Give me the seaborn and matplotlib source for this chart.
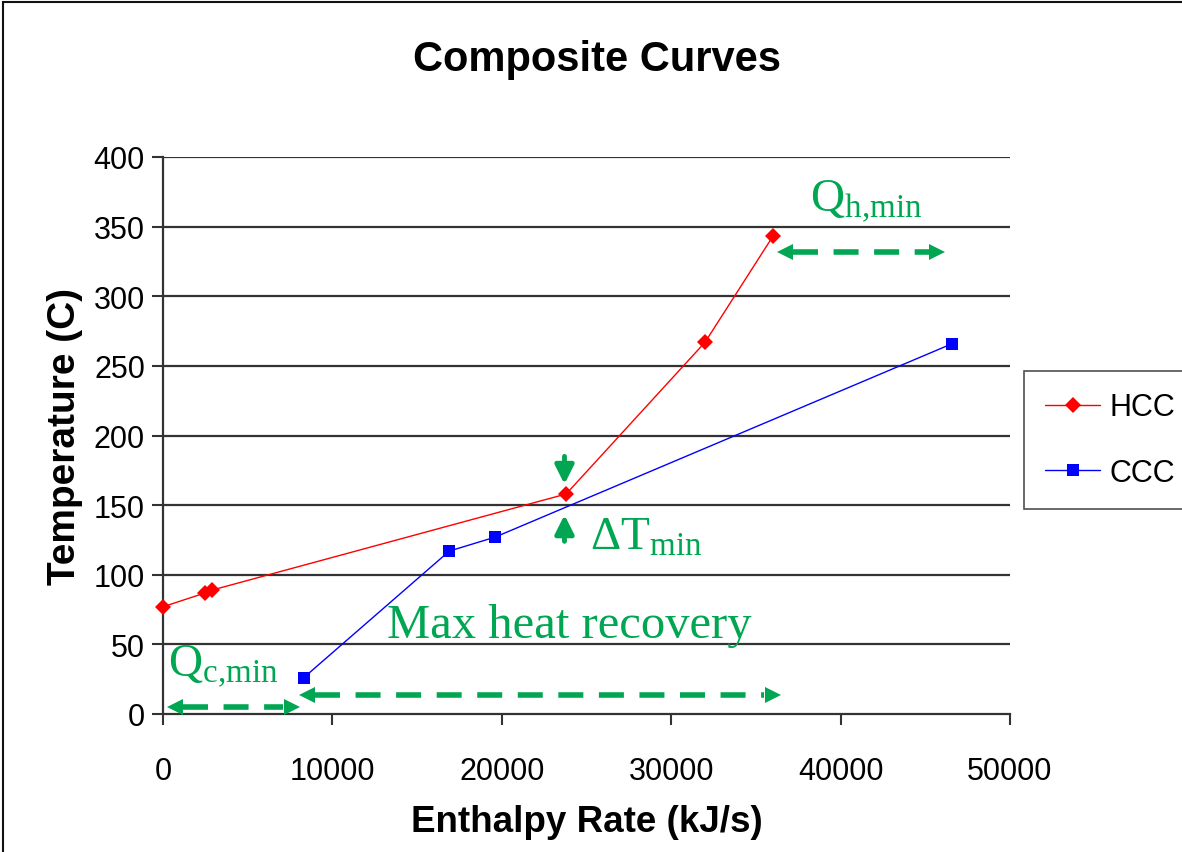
import numpy as np
import pandas as pd
import matplotlib
matplotlib.use("Agg")
import matplotlib.pyplot as plt
import seaborn as sns
from matplotlib.patches import Rectangle

# ---- data ----
hcc_x = [0, 2500, 2900, 23800, 32000, 36000]
hcc_y = [77, 87, 89, 158, 267, 343]
ccc_x = [8300, 16900, 19600, 46600]
ccc_y = [26, 117, 127, 266]
series_names = ["HCC", "CCC"]
x_ticks = [0, 10000, 20000, 30000, 40000, 50000]
y_ticks = [0, 50, 100, 150, 200, 250, 300, 350, 400]

# annotation arrows (data units)
qc_arrow = (700, 7600, 5)
mhr_arrow = (8500, 36000, 14)
qh_arrow = (36700, 45700, 332)
dt_x = 23700
dt_down = (185, 165)
dt_up = (124, 143)

df = pd.concat([
    pd.DataFrame({"Enthalpy": hcc_x, "Temp": hcc_y, "series": "HCC"}),
    pd.DataFrame({"Enthalpy": ccc_x, "Temp": ccc_y, "series": "CCC"}),
], ignore_index=True)

sns.set_style("white")
plt.rcParams["font.family"] = ["Liberation Sans", "DejaVu Sans"]
plt.rcParams["text.color"] = "black"
plt.rcParams["axes.labelcolor"] = "black"
plt.rcParams["xtick.color"] = "black"
plt.rcParams["ytick.color"] = "black"
plt.rcParams["mathtext.fontset"] = "custom"
plt.rcParams["mathtext.rm"] = "Liberation Serif"
plt.rcParams["mathtext.it"] = "Liberation Serif:italic"

W, H = 1182, 853
fig = plt.figure(figsize=(W / 100, H / 100), dpi=100)
fig.patch.set_facecolor("white")
ax = fig.add_axes([163 / W, 1 - 715 / H, (1010 - 163) / W, (715 - 158) / H])

sns.lineplot(data=df, x="Enthalpy", y="Temp", hue="series", style="series",
             hue_order=series_names, style_order=series_names,
             palette={"HCC": "#ff0000", "CCC": "#0000ff"},
             markers={"HCC": "D", "CCC": "s"}, dashes=False, sort=False,
             linewidth=1.0, markersize=8, markeredgewidth=0, ax=ax,
             legend=True)
for ln in ax.lines:
    ln.set_clip_on(False)
    ln.set_zorder(4)

ax.set_xlim(0, 50000)
ax.set_ylim(0, 400)
ax.set_xticks(x_ticks)
ax.set_yticks(y_ticks)
ax.set_xticklabels([str(v) for v in x_ticks])
ax.set_yticklabels([str(v) for v in y_ticks])
ax.tick_params(axis="x", direction="out", length=8, width=1.5, pad=22,
               labelsize=22, bottom=True, color="#333333", labelcolor="black")
ax.tick_params(axis="y", direction="out", length=8, width=1.5, pad=5,
               labelsize=22, left=True, color="#333333", labelcolor="black")
for yv in y_ticks[1:]:
    ax.axhline(yv, color="#333333", lw=1.6, zorder=0)
for s in ["top", "right"]:
    ax.spines[s].set_visible(False)
for s in ["left", "bottom"]:
    ax.spines[s].set_color("#333333")
    ax.spines[s].set_linewidth(1.6)

ax.set_xlabel("Enthalpy Rate (kJ/s)", fontsize=26.5, fontweight="bold", labelpad=13)
ax.set_ylabel("Temperature (C)", fontsize=28, fontweight="bold", labelpad=8)
fig.text(597 / W, 1 - 60 / H, "Composite Curves", fontsize=30, fontweight="bold",
         ha="center", va="center")

# legend
handles, labels = ax.get_legend_handles_labels()
leg = ax.legend(handles, labels, loc="upper left",
                bbox_to_anchor=(1024 / W, 1 - 372 / H),
                bbox_transform=fig.transFigure, borderaxespad=0,
                fontsize=22, frameon=True,
                fancybox=False, borderpad=0.7, labelspacing=1.15,
                handlelength=1.8, handletextpad=0.3)
leg.get_frame().set_edgecolor("#222222")
leg.get_frame().set_linewidth(1.2)
for t in leg.get_texts():
    t.set_color("black")

green = "#00a651"

def dashed_arrow(x0, x1, y):
    ax.plot([x0 + 500, x1 - 500], [y, y], color=green, lw=4, ls=(0, (4.5, 2.8)),
            solid_capstyle="butt", dash_capstyle="butt", clip_on=False, zorder=5)
    ax.plot([x0], [y], marker="<", color=green, markersize=12, markeredgewidth=0, zorder=6)
    ax.plot([x1], [y], marker=">", color=green, markersize=12, markeredgewidth=0, zorder=6)

dashed_arrow(*qc_arrow)
dashed_arrow(*mhr_arrow)
dashed_arrow(*qh_arrow)

ax.annotate("", xy=(dt_x, dt_down[1]), xytext=(dt_x, dt_down[0]),
            arrowprops=dict(arrowstyle="-|>", color=green, lw=3.5, mutation_scale=28,
                            shrinkA=0, shrinkB=0))
ax.annotate("", xy=(dt_x, dt_up[1]), xytext=(dt_x, dt_up[0]),
            arrowprops=dict(arrowstyle="-|>", color=green, lw=3.5, mutation_scale=28,
                            shrinkA=0, shrinkB=0))

ax.text(38200, 369, r"$\mathrm{Q_{h{,}min}}$", color=green, fontsize=34, ha="left", va="center")
ax.text(25200, 127, r"$\mathrm{\Delta T_{min}}$", color=green, fontsize=34, ha="left", va="center")
ax.text(13200, 64, "Max heat recovery", color=green, fontsize=35,
        family="Liberation Serif", ha="left", va="center")
ax.text(300, 35, r"$\mathrm{Q_{c{,}min}}$", color=green, fontsize=34, ha="left", va="center")

# figure border
fig.patches.append(Rectangle((3 / W, -0.1), 1.2, 1 - 3 / H + 0.1, transform=fig.transFigure,
                             fill=False, edgecolor="#111111", lw=1.5, zorder=10))

fig.savefig("out.png", dpi=100)
